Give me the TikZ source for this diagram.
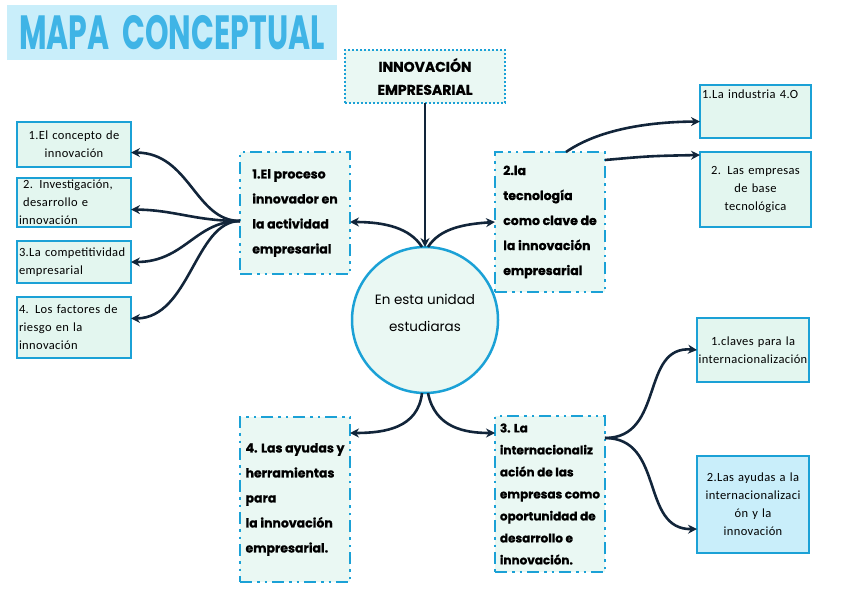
\documentclass[tikz,border=0pt]{standalone}
\usepackage{fontspec}
\setmainfont{Carlito}
\newfontfamily\boxfont{Poppins}
\newfontfamily\titlefont{Poppins}
\usepackage{tikz}
\usetikzlibrary{calc,arrows.meta}

\definecolor{boxblue}{HTML}{1BA1D6}
\definecolor{boxfill}{HTML}{E3F6EF}
\definecolor{pale}{HTML}{EAF8F3}
\definecolor{skyfill}{HTML}{C9EEFA}
\definecolor{titleblue}{HTML}{3FB4E6}
\definecolor{ink}{HTML}{12253A}

\begin{document}
\begin{tikzpicture}[x=1pt,y=-1pt,inner sep=0pt,outer sep=0pt,
    mainbox/.style={draw=boxblue, fill=pale, line width=2.5pt,
      dash pattern=on 12pt off 5pt on 2.5pt off 5pt on 2.5pt off 5pt,
      minimum width=110pt, align=left,
      font=\boxfont\bfseries\fontsize{12.5}{25}\selectfont\addfontfeatures{FakeBold=0.8}},
    subbox/.style={draw=boxblue, fill=boxfill, line width=2.5pt,
      minimum width=114pt, text width=110pt,
      font=\fontsize{12.5}{18}\selectfont\addfontfeatures{LetterSpace=3}},
    link/.style={draw=ink, line width=2.6pt, -{Stealth[length=9pt,width=9pt]}}]
    \useasboundingbox (0,0) rectangle (848,599);

    % title
    \node[fill=skyfill, minimum width=330pt, minimum height=55pt, anchor=north west,
      font=\titlefont\bfseries\fontsize{30}{30}\selectfont, text=titleblue] (title) at (7,5)
      {\scalebox{1}[1.6]{MAPA\ \ CONCEPTUAL}};

    % top and centre
    \node[draw=boxblue, fill=pale, line width=2.5pt, dash pattern=on 2pt off 2pt,
      minimum width=160pt, minimum height=53pt, anchor=north west, align=center,
      font=\boxfont\bfseries\fontsize{14}{23}\selectfont\addfontfeatures{FakeBold=0.8}] (top_box) at (345,50)
      {INNOVACIÓN\\ EMPRESARIAL};
    \node[circle, draw=boxblue, fill=pale, line width=2.5pt, minimum size=146pt,
      align=center, font=\boxfont\fontsize{13.5}{27}\selectfont] (center) at (425,320)
      {En esta unidad\\ estudiaras\\[-12pt]\mbox{}};

    % four main boxes
    \node[mainbox, minimum height=122pt, anchor=north west] (proc_box) at (240,152)
      {1.El proceso\\ innovador en\\ la actividad\\ empresarial};
    \node[mainbox, minimum height=140pt, anchor=north west] (tec_box) at (495,152)
      {2.la\\ tecnología\\ como clave de\\ la innovación\\ empresarial};
    \node[mainbox, minimum height=165pt, anchor=north west] (ayu_box) at (240,417)
      {4. Las ayudas y\\ herramientas\\ para\\ la innovación\\ empresarial.};
    \node[mainbox, minimum height=156pt, anchor=north west,
      font=\boxfont\bfseries\fontsize{12}{22}\selectfont\addfontfeatures{FakeBold=0.8}] (int_box) at (495,416)
      {3. La\\ internacionaliz\\ ación de las\\ empresas como\\ oportunidad de\\ desarrollo e\\ innovación.};

    % left boxes
    \node[subbox, minimum height=45pt, anchor=north west, align=center] (conc_box) at (17,122)
      {1.El concepto de\\ innovación};
    \node[subbox, minimum height=49pt, anchor=north west, align=left] (idi_box) at (17,178)
      {\ 2. Investigación,\\ \ desarrollo e\\ innovación};
    \node[subbox, minimum height=42pt, anchor=north west, align=left] (comp_box) at (17,241)
      {3.La competitividad\\ empresarial};
    \node[subbox, minimum height=61pt, anchor=north west, align=left] (ries_box) at (17,297)
      {4. Los factores de\\ riesgo en la\\ innovación};

    % right boxes
    \node[subbox, minimum width=111pt, text width=107pt, minimum height=53pt,
      anchor=north west, align=left] (ind_box) at (700,85)
      {1.La industria 4.O\\[16pt]\mbox{}};
    \node[subbox, minimum width=111pt, text width=107pt, minimum height=75pt,
      anchor=north west, align=center] (base_box) at (700,152)
      {2. Las empresas\\ de base\\ tecnológica};
    \node[subbox, minimum width=112pt, text width=112pt, minimum height=64pt,
      anchor=north west, align=center] (clav_box) at (697,318)
      {1.claves para la\\ internacionalización};
    \node[subbox, fill=skyfill, minimum width=112pt, text width=108pt, minimum height=97pt,
      anchor=north west, align=center] (help_box) at (697,456)
      {2.Las ayudas a la\\ internacionalizaci\\ ón y la\\ innovación};

    % connectors
    \draw[link] (top_box.south) -- (center.north);
    \draw[link] ($(center.north)+(-3,0)$) .. controls (410,228) and (385,222) .. ($(proc_box.east)+(0,9)$);
    \draw[link] ($(center.north)+(3,0)$) .. controls (440,228) and (465,224) .. (tec_box.west);
    \draw[link] ($(proc_box.west)+(0,8)$) .. controls (195,221) and (190,153) .. ($(conc_box.east)+(0,8)$);
    \draw[link] ($(proc_box.west)+(0,8)$) .. controls (195,221) and (175,210) .. ($(idi_box.east)+(0,7)$);
    \draw[link] ($(proc_box.west)+(0,8)$) .. controls (195,221) and (185,262) .. (comp_box.east);
    \draw[link] ($(proc_box.west)+(0,8)$) .. controls (195,221) and (190,318) .. ($(ries_box.east)+(0,-9)$);
    \draw[link] ($(tec_box.north)+(16,0)$) .. controls (595,132) and (640,122) .. ($(ind_box.west)+(0,10)$);
    \draw[link] ($(tec_box.north east)+(0,8)$) .. controls (650,156) .. ($(base_box.north west)+(0,3)$);
    \draw[link] ($(center.south)+(-3,0)$) .. controls (418,428) and (385,433) .. ($(ayu_box.north east)+(0,16)$);
    \draw[link] ($(center.south)+(3,0)$) .. controls (435,428) and (465,433) .. ($(int_box.north west)+(0,17)$);
    \draw[link] ($(int_box.north east)+(0,22)$) .. controls (665,438) and (640,345) .. (clav_box.west);
    \draw[link] ($(int_box.north east)+(0,22)$) .. controls (665,438) and (640,530) .. ($(help_box.south west)+(0,-24)$);

\end{tikzpicture}
\end{document}
